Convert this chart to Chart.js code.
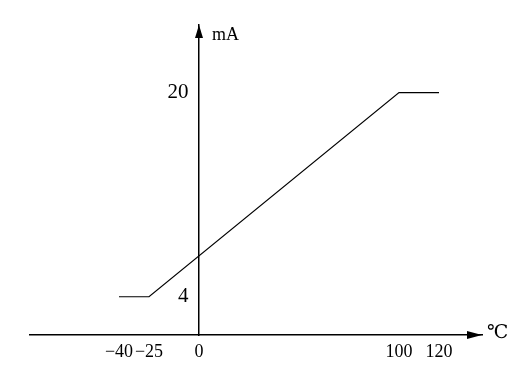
<!DOCTYPE html>
<html><head><meta charset="utf-8">
<script src="https://cdn.jsdelivr.net/npm/chart.js@4/dist/chart.umd.min.js"></script>
<style>html,body{margin:0;padding:0;background:#fff;}canvas{display:block;}</style>
</head><body>
<canvas id="c" width="514" height="371"></canvas>
<script>
const temperatureC = [-40, -25, 100, 120];
const currentMA = [4, 4, 20, 20];
const xTickValues = [-40, -25, 0, 100, 120];
const yTickValues = [4, 20];
const xAxisTitle = '℃';
const yAxisTitle = 'mA';

const FONT = "'Liberation Serif', 'Noto Sans CJK SC', serif";
const fmt = v => (v < 0 ? '\u2212' + Math.abs(v) : String(v));

const arrowPlugin = {
  id: 'arrows',
  afterDraw(chart) {
    const {ctx, chartArea: a, scales} = chart;
    const x0 = scales.x.getPixelForValue(0);
    const yb = scales.y.getPixelForValue(scales.y.min);
    ctx.save();
    ctx.fillStyle = '#000';
    ctx.beginPath();
    ctx.moveTo(x0, a.top); ctx.lineTo(x0 - 4, a.top + 13); ctx.lineTo(x0 + 4, a.top + 13); ctx.closePath(); ctx.fill();
    ctx.beginPath();
    ctx.moveTo(a.right, yb); ctx.lineTo(a.right - 15, yb - 4); ctx.lineTo(a.right - 15, yb + 4); ctx.closePath(); ctx.fill();
    ctx.textBaseline = 'middle';
    ctx.textAlign = 'left';
    ctx.font = "18px " + FONT;
    ctx.fillText(yAxisTitle, x0 + 13, a.top + 10);
    ctx.font = "19px 'DejaVu Serif', 'Noto Sans CJK SC', serif";
    ctx.fillText(xAxisTitle, a.right + 5, yb - 2);
    ctx.restore();
  }
};

new Chart(document.getElementById('c'), {
  type: 'line',
  data: {
    datasets: [{
      data: temperatureC.map((t, i) => ({x: t, y: currentMA[i]})),
      borderColor: '#000',
      borderWidth: 1.2,
      pointRadius: 0,
      tension: 0,
      fill: false
    }]
  },
  options: {
    responsive: false,
    animation: false,
    devicePixelRatio: 1,
    layout: {padding: {left: 30, right: 32, top: 25, bottom: 36}},
    plugins: {legend: {display: false}, tooltip: {enabled: false}},
    scales: {
      x: {
        type: 'linear', min: -84.5, max: 141.5,
        position: {y: 1},
        afterBuildTicks: s => { s.ticks = xTickValues.map(v => ({value: v})); },
        grid: {display: false, drawTicks: false},
        border: {display: true, color: '#000', width: 1.5},
        ticks: {color: '#000', font: {family: FONT, size: 18}, padding: 6, autoSkip: false, maxRotation: 0, callback: v => fmt(v)}
      },
      y: {
        type: 'linear', min: 1, max: 25.3,
        position: {x: 0},
        afterBuildTicks: s => { s.ticks = yTickValues.map(v => ({value: v})); },
        grid: {display: false, drawTicks: false},
        border: {display: true, color: '#000', width: 1.5},
        ticks: {color: '#000', font: {family: FONT, size: 21}, callback: v => fmt(v) + '  '}
      }
    }
  },
  plugins: [arrowPlugin]
});
</script>
</body></html>
